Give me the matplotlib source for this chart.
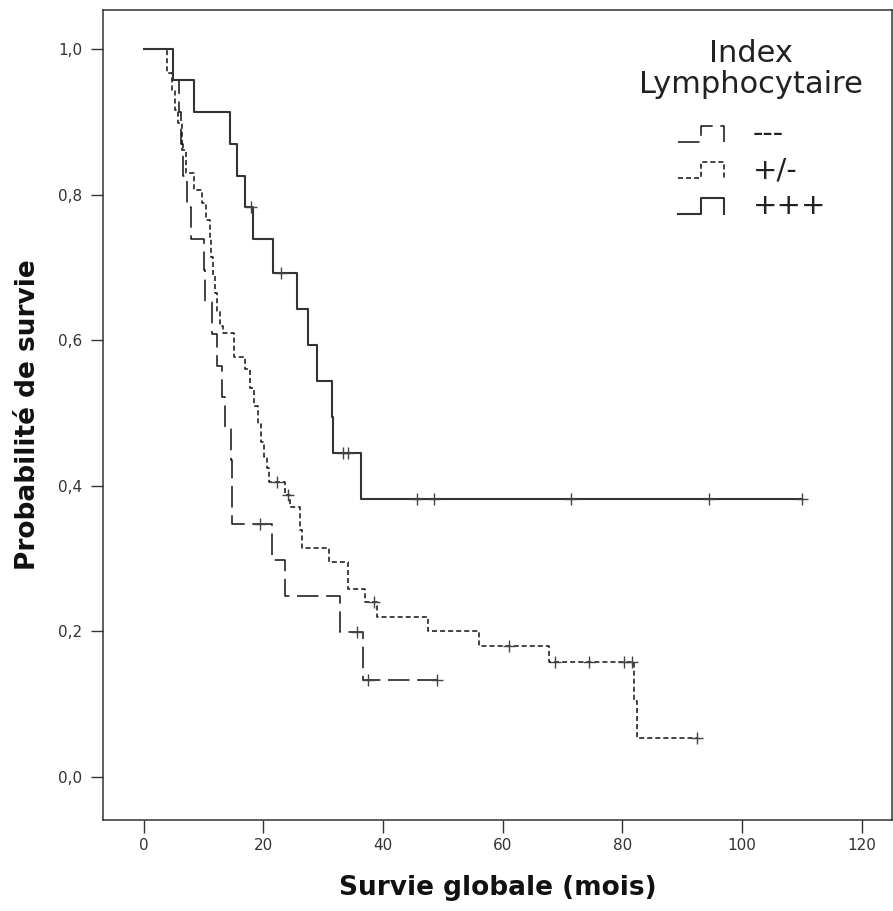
import matplotlib
matplotlib.use("Agg")
import matplotlib.pyplot as plt
import numpy as np
from matplotlib.lines import Line2D
from matplotlib.legend_handler import HandlerBase

# -------------------------------
# Kaplan-Meier steps (time in months, survival)
# -------------------------------
neg_t = [0, 5.0, 6.0, 6.3, 6.6, 7.2, 8.0, 10.1, 10.3, 11.4, 12.3, 13.1, 13.6,
         14.7, 14.75, 14.8, 21.5, 23.7, 32.9, 36.7, 49.0]
neg_s = [1.0, 0.957, 0.913, 0.870, 0.826, 0.783, 0.739, 0.696, 0.652, 0.609,
         0.565, 0.522, 0.478, 0.435, 0.391, 0.348, 0.298, 0.248, 0.199, 0.133, 0.133]
neg_cens = [19.5, 35.7, 37.5, 49.0]

mid_t = [0, 3.9, 4.7, 5.2, 5.7, 6.4, 7.1, 8.4, 9.7, 10.5, 11.1, 11.3, 11.6, 12.0,
         12.3, 12.8, 13.2, 15.1, 17.0, 17.8, 18.5, 19.2, 19.6, 20.1, 20.6, 21.0,
         23.7, 24.5, 26.2, 26.5, 31.0, 34.2, 37.0, 39.0, 47.6, 56.1, 67.8, 82.0,
         82.4, 92.5]
mid_s = [1.0, 0.967, 0.944, 0.916, 0.898, 0.861, 0.830, 0.806, 0.788, 0.765, 0.740,
         0.715, 0.690, 0.665, 0.640, 0.620, 0.610, 0.577, 0.560, 0.535, 0.510, 0.485,
         0.460, 0.440, 0.425, 0.405, 0.387, 0.371, 0.340, 0.315, 0.295, 0.258, 0.240,
         0.220, 0.200, 0.180, 0.158, 0.105, 0.053, 0.053]
mid_cens = [22.3, 24.2, 38.5, 61.0, 68.8, 74.5, 80.3, 81.7, 92.5]

pos_t = [0, 4.9, 8.4, 14.5, 15.6, 17.0, 18.3, 21.6, 25.6, 27.5, 29.0, 31.5, 31.6,
         36.4, 110.0]
pos_s = [1.0, 0.957, 0.913, 0.870, 0.826, 0.783, 0.739, 0.693, 0.643, 0.594, 0.544,
         0.495, 0.445, 0.382, 0.382]
pos_cens = [18.0, 23.0, 33.4, 34.2, 45.7, 48.6, 71.5, 94.4, 110.0]

group_labels = ["---", "+/-", "+++"]
legend_title = "Index\nLymphocytaire"
x_ticks = [0, 20, 40, 60, 80, 100, 120]
y_ticks = [0.0, 0.2, 0.4, 0.6, 0.8, 1.0]
y_ticklabels = ["0,0", "0,2", "0,4", "0,6", "0,8", "1,0"]

# -------------------------------
# Styles
# -------------------------------
plt.rcParams["lines.scale_dashes"] = False
styles = [
    dict(color="#111111", lw=1.1, dashes=(15.5, 5.5)),
    dict(color="#111111", lw=1.1, dashes=(3.6, 2.2)),
    dict(color="#333333", lw=1.5, linestyle="-"),
]


class StepHandler(HandlerBase):
    # SPSS-like step glyph in the legend
    def create_artists(self, legend, orig, xd, yd, w, h, fontsize, trans):
        xs = np.array([0, 0.5, 0.5, 1.0, 1.0]) * w - xd
        ys = np.array([0.0, 0.0, 1.0, 1.0, 0.0]) * h * 0.8 - yd
        ln = Line2D(xs, ys)
        ln.update_from(orig)
        ln.set_data(xs, ys)
        ln.set_marker("")
        ln.set_transform(trans)
        return [ln]


fig = plt.figure(figsize=(8.93, 9.11), dpi=100)
ax = fig.add_axes([103 / 893, 1 - 820 / 911, 789 / 893, 810 / 911])

series = [(neg_t, neg_s, neg_cens), (mid_t, mid_s, mid_cens), (pos_t, pos_s, pos_cens)]
handles = []
for (t, s, cens), st, lab in zip(series, styles, group_labels):
    ln, = ax.plot(t, s, drawstyle="steps-post", label=lab, **st)
    handles.append(ln)
    t_arr = np.array(t)
    s_arr = np.array(s)
    cy = s_arr[np.searchsorted(t_arr, cens, side="right") - 1]
    ax.plot(cens, cy, linestyle="none", marker="+", markersize=9,
            markeredgewidth=1.0, color="#444444")

ax.set_xlim(-6.77, 125.06)
ax.set_ylim(-0.059, 1.0536)
ax.set_xticks(x_ticks)
ax.set_yticks(y_ticks)
ax.set_yticklabels(y_ticklabels)

for sp in ax.spines.values():
    sp.set_color("#333333")
    sp.set_linewidth(1.1)
ax.tick_params(axis="both", direction="out", length=9, width=1.0,
               color="#333333", labelsize=11, labelcolor="#333333")
ax.tick_params(axis="y", pad=6)
ax.tick_params(axis="x", pad=4)

label_font = dict(family="DejaVu Sans", weight="bold", size=19, color="#111111")
ax.set_xlabel("Survie globale (mois)", labelpad=16, **label_font)
ax.set_ylabel("Probabilité de survie", labelpad=12, **label_font)

ax.text(0.821, 0.964, legend_title, transform=ax.transAxes, ha="center", va="top",
        multialignment="center", linespacing=1.08, fontsize=22, color="#222222")

leg = ax.legend(handles=handles, labels=group_labels,
                loc="upper center", bbox_to_anchor=(0.823, 0.864),
                frameon=False, fontsize=21,
                handlelength=1.55, handletextpad=1.0, labelspacing=0.28,
                borderpad=0, borderaxespad=0,
                handler_map={Line2D: StepHandler()})
for txt in leg.get_texts():
    txt.set_color("#222222")

fig.savefig("out.png", dpi=100)
